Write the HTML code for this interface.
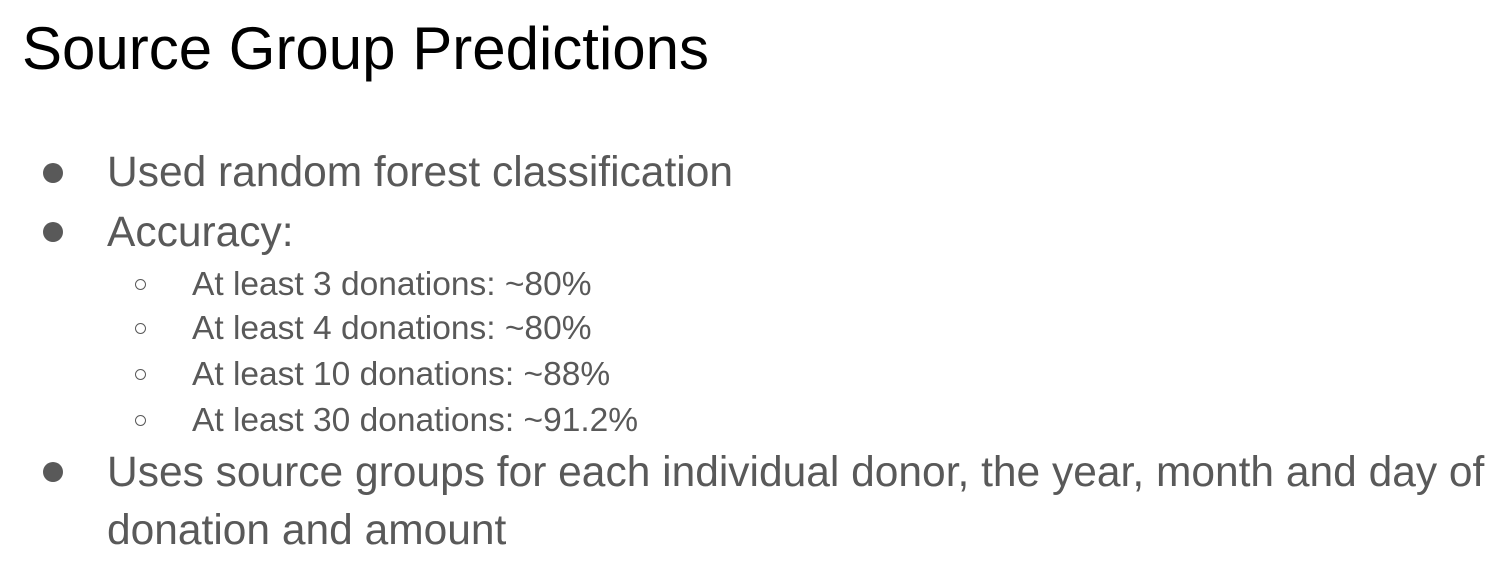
<!DOCTYPE html>
<html><head><meta charset="utf-8"><style>
html,body{margin:0;padding:0;background:#fff;}
body{width:1510px;height:582px;position:relative;overflow:hidden;font-family:"Liberation Sans",Arial,sans-serif;}
.t{position:absolute;line-height:1;white-space:nowrap;}
.title{font-size:60px;color:#000;left:22px;top:19px;}
.b{font-size:42.5px;color:#595959;left:107px;}
.s{font-size:33.5px;color:#595959;left:192px;}
.dot{position:absolute;width:20px;height:20px;border-radius:50%;background:#595959;left:43px;}
.ring{position:absolute;width:11px;height:11px;border-radius:50%;border:1.6px solid #595959;left:135px;box-sizing:border-box;}
</style></head><body>
<div class="t title">Source Group Predictions</div>

<div class="dot" style="top:163px"></div>
<div class="t b" style="top:152px">Used random forest classification</div>

<div class="dot" style="top:222px"></div>
<div class="t b" style="top:212px">Accuracy:</div>

<div class="ring" style="top:279px"></div>
<div class="t s" style="top:268px">At least 3 donations: ~80%</div>
<div class="ring" style="top:323px"></div>
<div class="t s" style="top:312px">At least 4 donations: ~80%</div>
<div class="ring" style="top:369px"></div>
<div class="t s" style="top:358px">At least 10 donations: ~88%</div>
<div class="ring" style="top:415px"></div>
<div class="t s" style="top:404px">At least 30 donations: ~91.2%</div>

<div class="dot" style="top:462px"></div>
<div class="t b" style="top:452px">Uses source groups for each individual donor, the year, month and day of</div>
<div class="t b" style="top:510px">donation and amount</div>
</body></html>
